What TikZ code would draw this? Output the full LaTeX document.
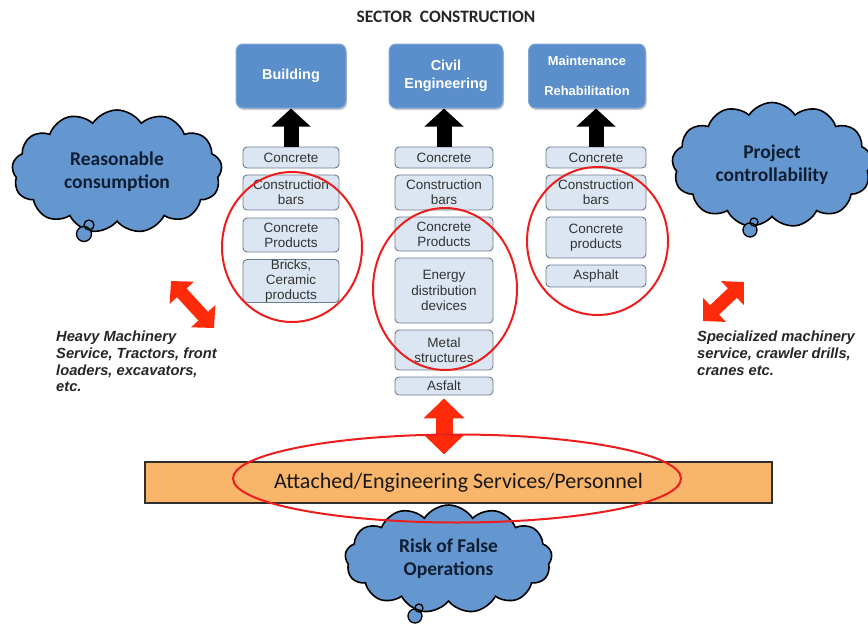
\documentclass[tikz,border=0pt]{standalone}
\usepackage{fontspec}
\setmainfont{Liberation Sans}
\newfontfamily\calibrifont{Carlito}
\usetikzlibrary{shapes.symbols,arrows.meta,shadows}

\definecolor{secblue}{HTML}{5B8FCC}
\definecolor{secedge}{HTML}{7FA6D6}
\definecolor{itemfill}{HTML}{DCE6F2}
\definecolor{itemdraw}{HTML}{6D7D8F}
\definecolor{itemtext}{HTML}{333333}
\definecolor{cloudfill}{HTML}{6497CF}
\definecolor{cloudtext}{HTML}{0F1E33}
\definecolor{barfill}{HTML}{F9B56A}
\definecolor{bardraw}{HTML}{2F2F2F}
\definecolor{arrowred}{HTML}{FF2A0A}
\definecolor{ringred}{HTML}{EE1D1D}

\begin{document}
\begin{tikzpicture}[x=1pt,y=-1pt,
  title/.style={font=\calibrifont\bfseries\fontsize{17.4}{19}\selectfont, text=black!85, inner sep=0pt},
  sector/.style={rounded corners=7pt, fill=secblue, draw=secedge, line width=1pt,
    minimum height=64pt, text=white, align=center, inner sep=0pt,
    font=\bfseries\fontsize{14.4}{18}\selectfont,
    drop shadow={shadow xshift=1pt, shadow yshift=-2pt, opacity=0.2, fill=black}},
  item/.style={rounded corners=4pt, fill=itemfill, draw=itemdraw, line width=0.9pt,
    align=center, inner sep=0pt, text=itemtext,
    font=\fontsize{13.5}{15.2}\selectfont},
  cloudy/.style={cloud, cloud puffs=13, cloud puff arc=115, cloud ignores aspect,
    fill=cloudfill, draw=black, line width=1.6pt, align=center, text=cloudtext,
    inner sep=0pt, font=\calibrifont\bfseries\fontsize{19.5}{23}\selectfont},
  bubble/.style={circle, draw=black, line width=1.3pt, fill=cloudfill, inner sep=0pt},
  bar/.style={fill=barfill, draw=bardraw, line width=1.3pt, inner sep=0pt,
    font=\calibrifont\fontsize{22}{24}\selectfont, text=black!90},
  note/.style={font=\bfseries\itshape\fontsize{14.7}{16.7}\selectfont, align=left,
    inner sep=0pt, text=black!85, anchor=north west},
  blackarrow/.style={draw=black, line width=15pt, -{Triangle[length=18pt,width=38pt]}},
  redarrow/.style={draw=arrowred, line width=13pt,
    {Triangle[length=16pt,width=32pt]}-{Triangle[length=16pt,width=32pt]}},
  bigred/.style={draw=arrowred, line width=17pt,
    {Triangle[length=20pt,width=40pt]}-{Triangle[length=20pt,width=40pt]}},
  ring/.style={draw=ringred, line width=2pt}
]
\useasboundingbox (0,0) rectangle (868,624);

% heading
\node[title] (head) at (446,17) {SECTOR\ \ CONSTRUCTION};

% sector boxes
\node[sector, minimum width=110pt] (bld) at (291,76) {Building};
\node[sector, minimum width=114pt] (civ) at (446,76) {Civil\\Engineering};
\node[sector, minimum width=117pt, font=\bfseries\fontsize{12.9}{30}\selectfont] (mnt) at (587,76) {Maintenance\\Rehabilitation};

% building materials
\node[item, minimum width=96pt, minimum height=21pt] (b1) at (291,157.5) {Concrete};
\node[item, minimum width=96pt, minimum height=35pt] (b2) at (291,192.5) {Construction\\bars};
\node[item, minimum width=96pt, minimum height=34pt] (b3) at (291,235) {Concrete\\Products};
\node[item, minimum width=96pt, minimum height=42pt] (b4) at (291,281) {Bricks,\\Ceramic\\products};

% civil engineering materials
\node[item, minimum width=98pt, minimum height=21pt] (c1) at (444,157.5) {Concrete};
\node[item, minimum width=98pt, minimum height=35pt] (c2) at (444,192.5) {Construction\\bars};
\node[item, minimum width=98pt, minimum height=34pt] (c3) at (444,234) {Concrete\\Products};
\node[item, minimum width=98pt, minimum height=65pt] (c4) at (444,290.5) {Energy\\distribution\\devices};
\node[item, minimum width=98pt, minimum height=40pt] (c5) at (444,350) {Metal\\structures};
\node[item, minimum width=98pt, minimum height=18pt] (c6) at (444,386) {Asfalt};

% maintenance materials
\node[item, minimum width=100pt, minimum height=21pt] (m1) at (596,157.5) {Concrete};
\node[item, minimum width=100pt, minimum height=35pt] (m2) at (596,192.5) {Construction\\bars};
\node[item, minimum width=100pt, minimum height=41pt] (m3) at (596,237.5) {Concrete\\products};
\node[item, minimum width=100pt, minimum height=22pt] (m4) at (596,276) {Asphalt};

% supply arrows into the sectors
\draw[blackarrow] (b1.north) -- (bld.south);
\draw[blackarrow] (c1.north) -- (c1.north |- civ.south);
\draw[blackarrow] (m1.north) -- (m1.north |- mnt.south);

% services bar
\node[bar, minimum width=627pt, minimum height=41pt] (svc) at (458.5,482.5) {Attached/Engineering Services/Personnel};
\draw[bigred, shorten <=3pt, shorten >=7pt] (c6.south) -- (c6.south |- svc.north);

% clouds
\node[cloudy, minimum width=210pt, minimum height=123pt] (rc) at (117,171.5) {Reasonable\\consumption};
\node[bubble, minimum size=15pt] (rcb) at (84,234) {};
\node[bubble, minimum size=10pt, fill=none] (rcs) at (89,225) {};

\node[cloudy, minimum width=200pt, minimum height=125pt] (pc) at (772,165) {Project\\controllability};
\node[bubble, minimum size=14pt] (pcb) at (750,230) {};
\node[bubble, minimum size=8pt, fill=none] (pcs) at (754,222) {};

\node[cloudy, minimum width=207pt, minimum height=108pt] (rf) at (448.5,559) {Risk of False\\Operations};
\node[bubble, minimum size=14pt] (rfb) at (415,616) {};
\node[bubble, minimum size=8pt, fill=none] (rfs) at (419,608) {};

% machinery notes
\node[note] (hm) at (56,331) {Heavy Machinery\\Service, Tractors, front\\loaders, excavators,\\etc.};
\node[note] (sm) at (697,331) {Specialized machinery\\service, crawler drills,\\cranes etc.};

\coordinate (la1) at (171,281);
\coordinate (la2) at (214,328);
\draw[redarrow] (la1) -- (la2);
\coordinate (ra1) at (703,321);
\coordinate (ra2) at (744,282);
\draw[redarrow] (ra1) -- (ra2);

% highlight rings
\draw[ring] (292,247) ellipse [x radius=70, y radius=75];
\draw[ring] (445,289) ellipse [x radius=72, y radius=81];
\draw[ring] (597.5,241) ellipse [x radius=70.5, y radius=74];
\draw[ring] (457,478.5) ellipse [x radius=224, y radius=44];
\end{tikzpicture}
\end{document}
